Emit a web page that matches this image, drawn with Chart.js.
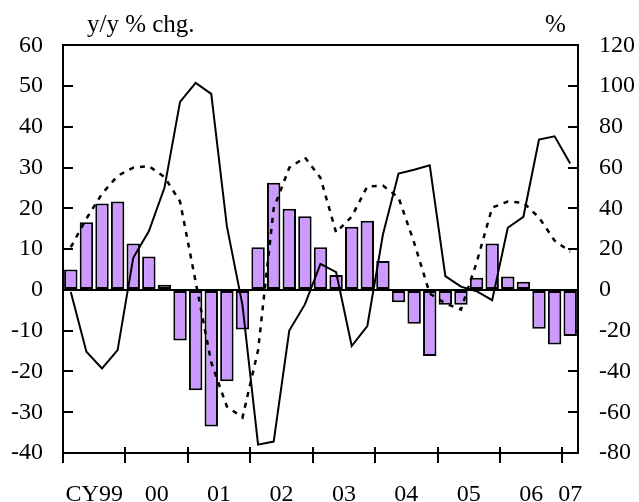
<!DOCTYPE html>
<html>
<head>
<meta charset="utf-8">
<script src="https://cdn.jsdelivr.net/npm/chart.js@4"></script>
<style>
  body { margin: 0; background: #fff; }
  canvas { display: block; }
</style>
</head>
<body>
<canvas id="chart" width="639" height="502"></canvas>
<script>
// quarters, 1Q99 .. 1Q07
const quarters = [
  "1Q99", "2Q99", "3Q99", "4Q99", "1Q00", "2Q00", "3Q00", "4Q00",
  "1Q01", "2Q01", "3Q01", "4Q01", "1Q02", "2Q02", "3Q02", "4Q02",
  "1Q03", "2Q03", "3Q03", "4Q03", "1Q04", "2Q04", "3Q04", "4Q04",
  "1Q05", "2Q05", "3Q05", "4Q05", "1Q06", "2Q06", "3Q06", "4Q06",
  "1Q07",
];
const yearLabels = ["CY99", "00", "01", "02", "03", "04", "05", "06", "07"];

// bars, y/y % chg. (left axis)
const barValues = [
  5.0, 16.6, 21.2, 21.7, 11.4, 8.2, 1.3, -12.4, -24.6, -33.5, -22.4, -9.7,
  10.5, 26.3, 19.9, 18.1, 10.5, 3.7, 15.5, 17.0, 7.1, -3.0, -8.3, -16.2,
  -3.6, -3.6, 3.0, 11.4, 3.3, 2.0, -9.5, -13.4, -11.3,
];
// dotted line (left axis)
const dottedValues = [
  10.5, 17.5, 23.6, 28.0, 30.0, 30.4, 27.7, 21.7, 2.0, -17.8, -28.6, -31.3,
  -14.8, 20.0, 30.0, 32.5, 27.5, 14.1, 18.0, 25.4, 25.6, 22.7, 11.6, -0.9,
  -3.3, -4.8, 6.7, 20.2, 21.7, 21.4, 17.8, 12.1, 9.4,
];
// solid line, % (right axis)
const solidValues = [
  -1, -30.3, -38.5, -29.5, 15.8, 28.8, 50.1, 92.3, 101.6, 96.2, 31.3, -7.4,
  -75.9, -74.4, -19.9, -7.1, 12.8, 8.7, -27.5, -17.7, 27.2, 57.1, 59.0, 61.2,
  6.8, 1.6, -0.6, -5.0, 30.5, 35.9, 73.8, 75.4, 62.0,
];

const FONT = "'Liberation Serif', 'Times New Roman', serif";

// year boundaries and year centres, in quarter units
const yearBounds = [];
const yearCentres = [];
quarters.forEach((q, i) => {
  if (q.startsWith("1Q")) yearBounds.push(i);
});
yearBounds.forEach((b, k) => {
  const end = k + 1 < yearBounds.length ? yearBounds[k + 1] : quarters.length;
  yearCentres.push((b + end) / 2);
});

const headerText = {
  id: "headerText",
  afterDraw(chart) {
    const ctx = chart.ctx;
    ctx.save();
    ctx.fillStyle = "#000";
    ctx.font = "25px " + FONT;
    ctx.textBaseline = "alphabetic";
    ctx.fillText("y/y % chg.", 87, 32);
    ctx.fillText("%", 545, 32);
    ctx.restore();
  },
};

new Chart(document.getElementById("chart"), {
  type: "bar",
  data: {
    labels: quarters,
    datasets: [
      {
        type: "line",
        data: solidValues,
        yAxisID: "yR",
        borderColor: "#000",
        borderWidth: 2,
        pointRadius: 0,
        tension: 0,
        fill: false,
        order: 1,
      },
      {
        type: "line",
        data: dottedValues,
        yAxisID: "y",
        borderColor: "#000",
        borderWidth: 2.5,
        borderDash: [5, 6],
        pointRadius: 0,
        tension: 0,
        fill: false,
        order: 2,
      },
      {
        data: barValues,
        yAxisID: "y",
        backgroundColor: "#CC99FF",
        borderColor: "#000",
        borderWidth: 2,
        borderSkipped: false,
        barPercentage: 0.86,
        categoryPercentage: 1,
        order: 3,
      },
    ],
  },
  options: {
    responsive: false,
    animation: false,
    layout: { padding: 0 },
    plugins: { legend: { display: false }, tooltip: { enabled: false } },
    scales: {
      x: {
        position: "bottom",
        weight: 0,
        ticks: { display: false },
        grid: { display: false, drawTicks: false },
        border: { display: true, color: "#000", width: 2 },
        afterFit: (s) => { s.height = 10; },
      },
      xl: {
        type: "linear",
        position: "bottom",
        weight: 1,
        offset: false,
        min: 0,
        max: quarters.length,
        afterBuildTicks: (s) => {
          s.ticks = yearBounds.map((v) => ({ value: v }))
            .concat(yearCentres.map((v) => ({ value: v })))
            .sort((a, b) => a.value - b.value);
        },
        ticks: {
          autoSkip: false,
          maxRotation: 0,
          padding: 33,
          color: "#000",
          font: { family: FONT, size: 24 },
          callback: (v) => {
            const k = yearCentres.indexOf(v);
            return k >= 0 ? yearLabels[k] : "";
          },
        },
        grid: {
          offset: false,
          drawOnChartArea: false,
          tickLength: -16,
          lineWidth: 2,
          color: "rgba(0,0,0,0)",
          tickColor: (c) => (c.tick && yearBounds.includes(c.tick.value) ? "#000" : "rgba(0,0,0,0)"),
        },
        border: { display: false },
        afterFit: (s) => { s.height = 39; },
      },
      xt: {
        type: "linear",
        position: "top",
        offset: false,
        min: 0,
        max: 1,
        ticks: { display: false },
        grid: { display: false, drawTicks: false, offset: false },
        border: { display: true, color: "#000", width: 2 },
        afterFit: (s) => { s.height = 45; },
      },
      y: {
        position: "left",
        min: -40,
        max: 60,
        ticks: {
          stepSize: 10,
          padding: 30,
          color: "#000",
          font: { family: FONT, size: 24 },
        },
        grid: {
          drawOnChartArea: true,
          tickLength: -10,
          lineWidth: 2,
          color: (c) => (c.tick && c.tick.value === 0 ? "#000" : "rgba(0,0,0,0)"),
          tickColor: "#000",
        },
        border: { display: true, color: "#000", width: 2 },
        afterFit: (s) => { s.width = 63; },
      },
      yR: {
        position: "right",
        min: -80,
        max: 120,
        ticks: {
          stepSize: 20,
          padding: 31,
          color: "#000",
          font: { family: FONT, size: 24 },
        },
        grid: {
          drawOnChartArea: false,
          tickLength: -10,
          lineWidth: 2,
          color: "#000",
          tickColor: "#000",
        },
        border: { display: true, color: "#000", width: 2 },
        afterFit: (s) => { s.width = 61; },
      },
    },
  },
  plugins: [headerText],
});
</script>
</body>
</html>
